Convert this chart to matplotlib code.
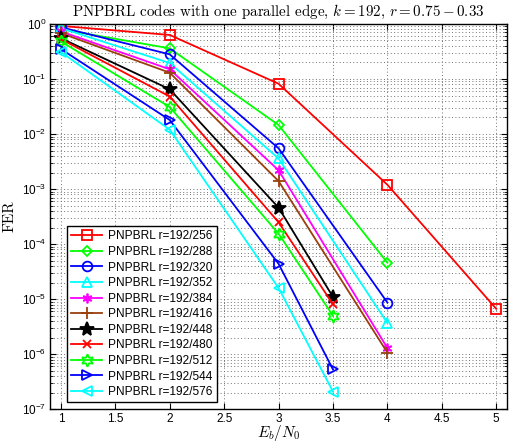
import numpy as np
import matplotlib
matplotlib.use('Agg')
from matplotlib import pyplot as plt
from matplotlib.ticker import LogLocator, NullFormatter

plt.rcParams['font.family'] = ['Liberation Sans', 'DejaVu Sans']
plt.rcParams['mathtext.fontset'] = 'cm'

# Eb/N0 points and FER for each rate
ebn0_5 = [1, 2, 3, 4, 5]
ebn0_4 = [1, 2, 3, 4]
ebn0_35 = [1, 2, 3, 3.5]

fer_256 = [0.92, 0.63, 0.082, 1.2e-3, 6.7e-6]
fer_288 = [0.80, 0.36, 0.0146, 4.6e-5]
fer_320 = [0.87, 0.28, 0.0055, 8.7e-6]
fer_352 = [0.84, 0.195, 0.0036, 3.7e-6]
fer_384 = [0.73, 0.15, 0.0022, 1.3e-6]
fer_416 = [0.68, 0.13, 0.0014, 1.07e-6]
fer_448 = [0.55, 0.065, 4.6e-4, 1.1e-5]
fer_480 = [0.53, 0.048, 2.5e-4, 8.1e-6]
fer_512 = [0.48, 0.031, 1.55e-4, 5.0e-6]
fer_544 = [0.35, 0.018, 4.4e-5, 5.3e-7]
fer_576 = [0.31, 0.012, 1.6e-5, 2.1e-7]

labels = ['PNPBRL r=192/256', 'PNPBRL r=192/288', 'PNPBRL r=192/320',
          'PNPBRL r=192/352', 'PNPBRL r=192/384', 'PNPBRL r=192/416',
          'PNPBRL r=192/448', 'PNPBRL r=192/480', 'PNPBRL r=192/512',
          'PNPBRL r=192/544', 'PNPBRL r=192/576']

series = [
    (ebn0_5, fer_256, (1, 0, 0), 's', 'none', 7),
    (ebn0_4, fer_288, (0, 1, 0), 'D', 'none', 5.5),
    (ebn0_4, fer_320, (0, 0, 1), 'o', 'none', 7),
    (ebn0_4, fer_352, (0, 1, 1), '^', 'none', 7.5),
    (ebn0_4, fer_384, (1, 0, 1), (6, 2, 0), 'none', 7),
    (ebn0_4, fer_416, (0.6, 0.25, 0.05), '+', 'none', 8),
    (ebn0_35, fer_448, (0, 0, 0), '*', (0, 0, 0), 10),
    (ebn0_35, fer_480, (1, 0, 0), 'x', 'none', 6),
    (ebn0_35, fer_512, (0, 1, 0), (6, 1, 0), 'none', 9),
    (ebn0_35, fer_544, (0, 0, 1), '>', 'none', 7.5),
    (ebn0_35, fer_576, (0, 1, 1), '<', 'none', 7.5),
]

fig = plt.figure(figsize=(5.13, 4.43), dpi=100)
ax = fig.add_axes([0.0975, 0.076, 0.891, 0.870])

for (x, y, c, m, fc, ms), lab in zip(series, labels):
    ax.semilogy(x, y, color=c, marker=m, markerfacecolor=fc,
                markeredgecolor=c, markersize=ms, markeredgewidth=1.3,
                linewidth=1.3, label=lab)

ax.set_xlim(0.9, 5.1)
ax.set_ylim(1e-7, 1)
ax.set_xticks(np.arange(1, 5.01, 0.5))
ax.set_xticklabels(['1', '1.5', '2', '2.5', '3', '3.5', '4', '4.5', '5'])
ax.yaxis.set_major_locator(LogLocator(base=10, numticks=10))
ax.yaxis.set_minor_locator(LogLocator(base=10, subs=np.arange(2, 10), numticks=100))
ax.yaxis.set_minor_formatter(NullFormatter())

ax.grid(True, which='major', linestyle=(0, (1, 2.5)), color='0.45', linewidth=0.7)
ax.grid(True, which='minor', axis='y', linestyle=(0, (1, 2.5)), color='0.45', linewidth=0.7)
ax.tick_params(which='both', direction='in', top=True, right=True, labelsize=8.5, pad=2.5)
ax.tick_params(which='major', length=4)
ax.tick_params(which='minor', length=2)
for s in ax.spines.values():
    s.set_linewidth(1.0)

ax.set_title(r'PNPBRL codes with one parallel edge, $k=192$, $r=0.75-0.33$',
             family='cmr10', fontsize=10.8, pad=6)
ax.set_xlabel(r'$E_b/N_0$', fontsize=11, labelpad=-1)
ax.set_ylabel('FER', family='cmr10', fontsize=11, labelpad=4)

leg = ax.legend(loc='lower left', bbox_to_anchor=(0.037, 0.018), borderaxespad=0,
                fontsize=8.6, fancybox=False, framealpha=1,
                edgecolor='black', handlelength=2.6, labelspacing=0.3,
                handletextpad=0.5, borderpad=0.35)
leg.get_frame().set_linewidth(1.0)

fig.savefig('out.png', dpi=100)
